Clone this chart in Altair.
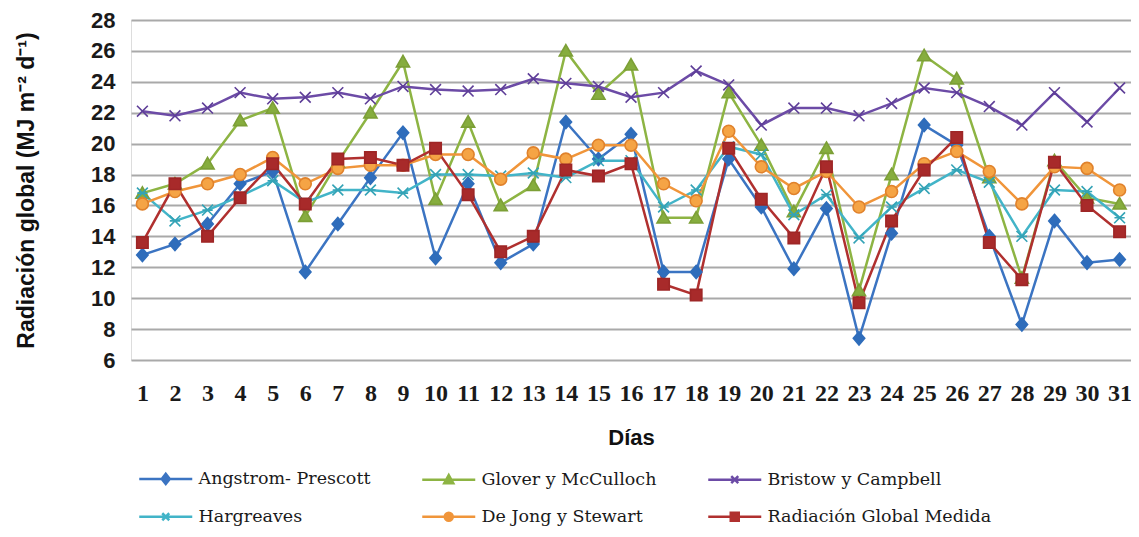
import altair as alt
import pandas as pd

dias = list(range(1, 32))

series = ["Angstrom- Prescott", "Glover y McCulloch", "Bristow y Campbell",
          "Hargreaves", "De Jong y Stewart", "Radiación Global Medida"]

angstrom = [12.8, 13.5, 14.8, 17.4, 18.2, 11.7, 14.8, 17.8, 20.7, 12.6, 17.4, 12.3, 13.5, 21.4, 19.0, 20.6,
            11.7, 11.7, 19.0, 15.9, 11.9, 15.8, 7.4, 14.2, 21.2, 19.9, 14.0, 8.3, 15.0, 12.3, 12.5]
glover = [16.8, 17.4, 18.7, 21.5, 22.3, 15.3, 18.8, 22.0, 25.3, 16.4, 21.4, 16.0, 17.3, 26.0, 23.2, 25.1,
          15.2, 15.2, 23.3, 19.9, 15.6, 19.7, 10.5, 18.0, 25.7, 24.2, 17.8, 11.3, 18.9, 16.5, 16.1]
bristow = [22.1, 21.8, 22.3, 23.3, 22.9, 23.0, 23.3, 22.9, 23.7, 23.5, 23.4, 23.5, 24.2, 23.9, 23.7, 23.0,
           23.3, 24.7, 23.8, 21.2, 22.3, 22.3, 21.8, 22.6, 23.6, 23.3, 22.4, 21.2, 23.3, 21.4, 23.6]
hargreaves = [16.8, 15.0, 15.7, 16.6, 17.6, 16.2, 17.0, 17.0, 16.8, 18.0, 18.0, 17.9, 18.1, 17.8, 18.9, 18.9,
              15.9, 17.0, 19.8, 19.3, 15.4, 16.7, 13.9, 15.9, 17.1, 18.3, 17.5, 14.0, 17.0, 16.9, 15.2]
dejong = [16.1, 16.9, 17.4, 18.0, 19.1, 17.4, 18.4, 18.6, 18.6, 19.3, 19.3, 17.7, 19.4, 19.0, 19.9, 19.9,
          17.4, 16.3, 20.8, 18.5, 17.1, 18.2, 15.9, 16.9, 18.7, 19.5, 18.2, 16.1, 18.5, 18.4, 17.0]
medida = [13.6, 17.4, 14.0, 16.5, 18.7, 16.1, 19.0, 19.1, 18.6, 19.7, 16.7, 13.0, 14.0, 18.3, 17.9, 18.7,
          10.9, 10.2, 19.7, 16.4, 13.9, 18.5, 9.7, 15.0, 18.3, 20.4, 13.6, 11.2, 18.8, 16.0, 14.3]

valores = [angstrom, glover, bristow, hargreaves, dejong, medida]

colores_linea = ["#3B74C2", "#8DB443", "#6C4BA6", "#42B4C8", "#F0953A", "#B0302F"]
colores_relleno = ["#2F6DBB", "#86AD3E", "#6A47A6", "#3AAFC2", "#F5A445", "#A82A2A"]
colores_borde = ["#2F6DBB", "#7C9F36", "#5E3E98", "#34A3B6", "#E0822C", "#9E2626"]

marcadores = [
    "M0,-1.15L1,0L0,1.15L-1,0Z",
    "M0,-1.1L1.15,0.9L-1.15,0.9Z",
    "M-0.95,-0.95L0.95,0.95M-0.95,0.95L0.95,-0.95",
    "M-0.95,-0.95L0.95,0.95M-0.95,0.95L0.95,-0.95M-0.9,0L0.9,0",
    "M-1.05,0A1.05,1.05 0 1,0 1.05,0A1.05,1.05 0 1,0 -1.05,0Z",
    "M-1,-1L1,-1L1,1L-1,1Z",
]
linea_leyenda = "M-5.3,0L5.3,0"
marcadores_leyenda = [
    linea_leyenda + "M0,-1.0L0.8,0L0,1.0L-0.8,0Z",
    linea_leyenda + "M0,-0.9L0.9,0.7L-0.9,0.7Z",
    linea_leyenda + "M-0.7,-0.7L0.7,0.7M-0.7,0.7L0.7,-0.7",
    linea_leyenda + "M-0.7,-0.7L0.7,0.7M-0.7,0.7L0.7,-0.7",
    linea_leyenda + "M-0.8,0A0.8,0.8 0 1,0 0.8,0A0.8,0.8 0 1,0 -0.8,0Z",
    linea_leyenda + "M-0.8,-0.8L0.8,-0.8L0.8,0.8L-0.8,0.8Z",
]

filas = []
for s, vals in zip(series, valores):
    for d, v in zip(dias, vals):
        filas.append({"dia": d, "valor": v, "serie": s})
df = pd.DataFrame(filas)

x = alt.X("dia:O",
          scale=alt.Scale(type="point", padding=0.35),
          axis=alt.Axis(title="Días", labelAngle=0, grid=False, domain=False, ticks=False,
                        labelFont="Liberation Serif", labelFontWeight="bold", labelFontSize=24,
                        labelColor="#1a1a1a", labelPadding=21,
                        titleFont="Liberation Sans", titleFontWeight="bold", titleFontSize=22,
                        titleColor="#111111", titlePadding=22))
y = alt.Y("valor:Q",
          scale=alt.Scale(domain=[6, 28], nice=False, zero=False),
          axis=alt.Axis(title="Radiación global (MJ m⁻² d⁻¹)", values=list(range(6, 29, 2)),
                        grid=True, gridColor="#a9a9a9", gridWidth=2, domain=False, ticks=False,
                        labelFont="Liberation Sans", labelFontWeight="bold", labelFontSize=22,
                        labelColor="#1a1a1a", labelPadding=16,
                        titleFont="Liberation Sans", titleFontWeight="bold", titleFontSize=23,
                        titleColor="#111111", titlePadding=52))

base = alt.Chart(df)

lineas = base.mark_line(strokeWidth=2.5).encode(
    x=x, y=y,
    color=alt.Color("serie:N", scale=alt.Scale(domain=series, range=colores_linea), legend=None),
)

puntos = base.mark_point(filled=True, size=130, strokeWidth=1.6, opacity=1).encode(
    x=x, y=y,
    fill=alt.Fill("serie:N", scale=alt.Scale(domain=series, range=colores_relleno), legend=None),
    stroke=alt.Stroke("serie:N", scale=alt.Scale(domain=series, range=colores_borde), legend=None),
    shape=alt.Shape("serie:N", scale=alt.Scale(domain=series, range=marcadores), legend=None),
)

leg = alt.Legend(title=None, orient="none", legendX=26, legendY=450, columns=3, direction="horizontal",
                 gridAlign="each", columnPadding=46, rowPadding=18, padding=0,
                 symbolSize=100, symbolStrokeWidth=2.5, symbolOpacity=1, labelOffset=24,
                 labelFont="DejaVu Serif", labelFontSize=17.5, labelColor="#1a1a1a", labelLimit=400)

leyenda = base.transform_filter("datum.dia == 1").mark_point(filled=True, opacity=0).encode(
    x=x, y=y,
    fill=alt.Fill("serie:N", scale=alt.Scale(domain=series, range=colores_linea), legend=leg),
    stroke=alt.Stroke("serie:N", scale=alt.Scale(domain=series, range=colores_linea), legend=leg),
    shape=alt.Shape("serie:N", scale=alt.Scale(domain=series, range=marcadores_leyenda), legend=leg),
)

chart = alt.layer(lineas, puntos, leyenda).resolve_scale(
    color="independent", fill="independent", stroke="independent", shape="independent"
).properties(
    width=1000, height=340,
    autosize=alt.AutoSizeParams(type="none"),
    padding={"left": 123, "top": 12, "right": 0, "bottom": 169},
).configure_view(stroke=None).configure(background="white")

chart.save("out.html", embed_options={"renderer": "svg", "actions": False})
